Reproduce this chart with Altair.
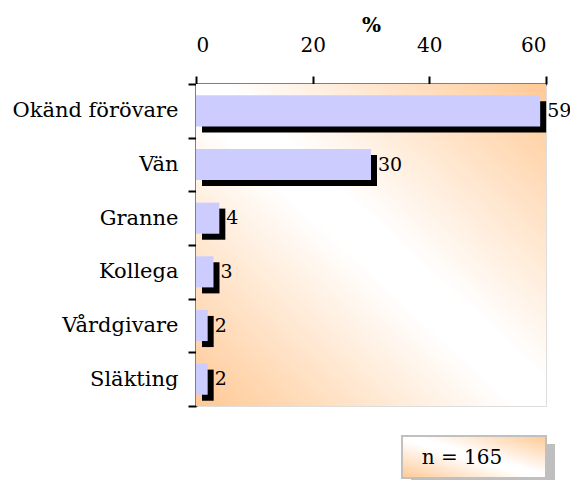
import altair as alt
import pandas as pd

categories = ["Okänd förövare", "Vän", "Granne", "Kollega", "Vårdgivare", "Släkting"]
values = [59, 30, 4, 3, 2, 2]
x_ticks = [0, 20, 40, 60]
note_text = ["n = 165"]

df = pd.DataFrame({"cat": categories, "val": values})
one = pd.DataFrame({"t": note_text})

W, H = 350, 322
FONT = "DejaVu Serif"

peach = "#FFC995"
grad = alt.LinearGradient(
    gradient="linear", x1=0, y1=1, x2=1, y2=0,
    stops=[alt.GradientStop(offset=0, color=peach),
           alt.GradientStop(offset=0.46, color="#FFFFFF"),
           alt.GradientStop(offset=0.54, color="#FFFFFF"),
           alt.GradientStop(offset=1, color=peach)],
)

xscale = alt.Scale(domain=[0, 60], nice=False, zero=True)
yscale = alt.Scale(paddingInner=0, paddingOuter=0)

x_enc = alt.X("val:Q", scale=xscale,
              axis=alt.Axis(orient="top", values=x_ticks, title="%", grid=False,
                            labelFont=FONT, labelFontSize=20, labelColor="black",
                            labelBaseline="middle", labelPadding=31,
                            tickSize=8, tickWidth=2, tickColor="black",
                            domainColor="black", domainWidth=2,
                            titleFont=FONT, titleFontSize=20, titleFontWeight="bold",
                            titleColor="black", titleBaseline="middle", titleY=-59))
y_enc = alt.Y("cat:N", sort=categories, scale=yscale,
              axis=alt.Axis(title=None, labelFont=FONT, labelFontSize=21, labelColor="black",
                            labelPadding=10, tickSize=8, tickWidth=2, tickColor="black",
                            domainColor="black", domainWidth=2, tickBand="extent",
                            labelLimit=300))

bg = alt.Chart(one).mark_rect(color=grad, clip=False).encode(
    x=alt.value(0), x2=alt.value(W), y=alt.value(0), y2=alt.value(H))

shadow = alt.Chart(df).mark_bar(color="black", height={"band": 0.58},
                                xOffset=6, x2Offset=6, yOffset=6, y2Offset=6).encode(
    x=x_enc, y=y_enc)

bars = alt.Chart(df).mark_bar(color="#CCCCFF", height={"band": 0.58}).encode(
    x=alt.X("val:Q", scale=xscale), y=alt.Y("cat:N", sort=categories, scale=yscale))

labels = alt.Chart(df).mark_text(font=FONT, fontSize=19, align="left", baseline="middle",
                                 dx=7, color="black").encode(
    x=alt.X("val:Q", scale=xscale), y=alt.Y("cat:N", sort=categories, scale=yscale),
    text="val:Q")

box_shadow = alt.Chart(one).mark_rect(color="#BFBFBF", clip=False).encode(
    x=alt.value(215), x2=alt.value(359), y=alt.value(360), y2=alt.value(400))
box = alt.Chart(one).mark_rect(color=grad, stroke="#C0C0C0", strokeWidth=2, clip=False).encode(
    x=alt.value(206), x2=alt.value(350), y=alt.value(352), y2=alt.value(394))
box_text = alt.Chart(one).mark_text(font=FONT, fontSize=20, align="center",
                                    baseline="middle", color="black").encode(
    x=alt.value(266), y=alt.value(374), text="t:N")

chart = alt.layer(bg, shadow, bars, labels, box_shadow, box, box_text).properties(
    width=W, height=H,
    autosize=alt.AutoSizeParams(type="none"),
    padding={"left": 188, "top": 76, "right": 24, "bottom": 74},
).configure_view(stroke=None).configure(background="white")

chart.save("out.html", embed_options={"renderer": "svg", "actions": False})
